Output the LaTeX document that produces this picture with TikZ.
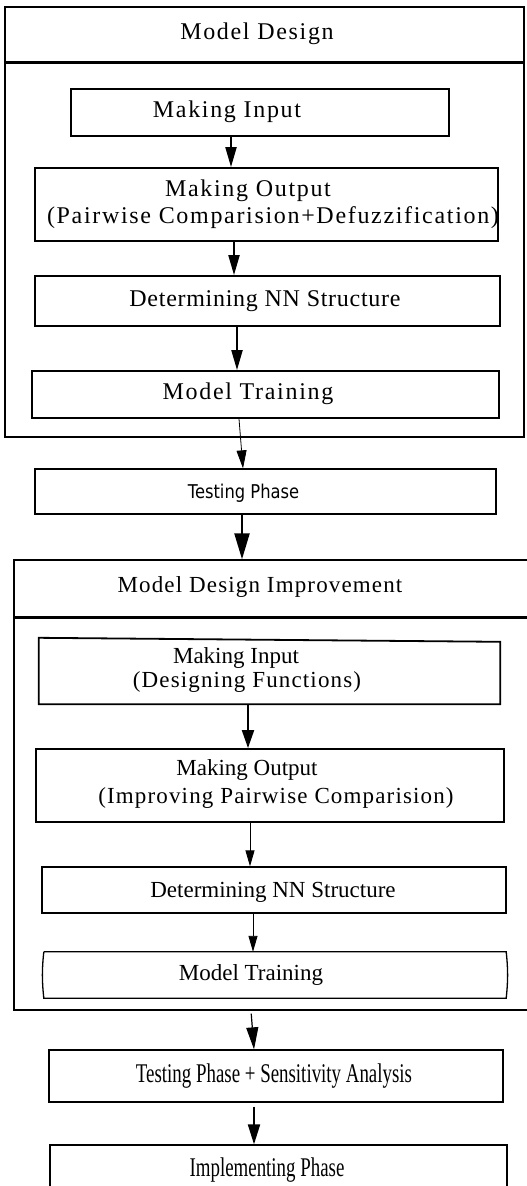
\documentclass[tikz,border=0pt]{standalone}
\usepackage{fontspec}
\setmainfont{Liberation Serif}
\newfontfamily\upA[LetterSpace=7]{Liberation Serif}
\newfontfamily\upB[LetterSpace=3]{Liberation Serif}
\newfontfamily\loS[LetterSpace=5]{Liberation Serif}
\newfontfamily\condF[FakeStretch=0.70]{Liberation Serif}
\newfontfamily\sansF[FakeStretch=0.86]{DejaVu Sans}
\usetikzlibrary{arrows.meta}
\tikzset{
  cont/.style={draw, rectangle, inner sep=0pt, line width=1.4pt},
  sepline/.style={line width=3pt},
  boxA/.style={draw, rectangle, inner sep=0pt, line width=1.8pt},
  boxB/.style={draw, rectangle, inner sep=0pt, line width=1.3pt},
  ghost/.style={rectangle, inner sep=0pt},
  txt/.style={inner sep=0pt, anchor=base},
  upt/.style={txt, font=\upA\fontsize{24}{28}\selectfont},
  lot/.style={txt, font=\fontsize{23}{27}\selectfont},
  cdt/.style={txt, font=\condF\fontsize{27}{31}\selectfont},
  thickarr/.style={line width=2pt, -{Triangle[length=20pt,width=11pt]}},
  bigarr/.style={line width=2.2pt, -{Triangle[length=26pt,width=15pt]}},
  thinarr/.style={line width=0.9pt, -{Triangle[length=16pt,width=9pt]}},
}
\begin{document}
\begin{tikzpicture}[x=1pt,y=-1pt]
\useasboundingbox (0,0) rectangle (527,1186);
\fill[white] (0,0) rectangle (527,1186);
\clip (0,0) rectangle (527,1186);

% ---------- Model Design container ----------
\node[cont, minimum width=519pt, minimum height=430pt] (c1) at (264.5,222) {};
\draw[sepline] (c1.west |- 0,62) -- (c1.east |- 0,62);
\node[upt] (t-c1) at (257,39) {Model Design};

\node[boxA, minimum width=378pt, minimum height=47pt] (mi1) at (260,112.5) {};
\node[upt] (t-mi1) at (227,117) {Making Input};

\node[boxA, minimum width=463pt, minimum height=73pt] (mo1) at (266.5,204.5) {};
\node[upt] (t-mo1a) at (248,196) {Making Output};
\node[upt] (t-mo1b) at (273,223) {(Pairwise Comparision+Defuzzification)};

\node[boxA, minimum width=465pt, minimum height=50pt] (dn1) at (267.5,301) {};
\node[txt, font=\upB\fontsize{24}{28}\selectfont] (t-dn1) at (265,306) {Determining NN Structure};

\node[boxA, minimum width=467pt, minimum height=47pt] (mt1) at (265.5,394.5) {};
\node[upt] (t-mt1) at (248,399) {Model Training};

% ---------- Testing Phase ----------
\node[boxB, minimum width=461pt, minimum height=45pt] (tp) at (265.5,491.5) {};
\node[txt, font=\sansF\fontsize{19}{23}\selectfont] (t-tp) at (243.5,498) {Testing Phase};

% ---------- Model Design Improvement container ----------
\node[cont, minimum width=516pt, minimum height=450pt] (c2) at (272,785) {};
\draw[sepline] (c2.west |- 0,617) -- (c2.east |- 0,617);
\node[txt, font=\loS\fontsize{23}{27}\selectfont] (t-c2) at (260,592) {Model Design Improvement};

\node[ghost, minimum width=461pt, minimum height=64pt] (mi2) at (269.5,672) {};
\draw[line width=1.8pt] ([yshift=2pt]mi2.north west) -- ([yshift=-2pt]mi2.north east)
   -- (mi2.south east) -- (mi2.south west) -- cycle;
\node[lot] (t-mi2a) at (236,663) {Making Input};
\node[txt, font=\loS\fontsize{23}{27}\selectfont] (t-mi2b) at (247,687) {(Designing Functions)};

\node[boxA, minimum width=468pt, minimum height=73pt] (mo2) at (270,785.5) {};
\node[lot] (t-mo2a) at (247,775) {Making Output};
\node[txt, font=\loS\fontsize{23}{27}\selectfont] (t-mo2b) at (276,803) {(Improving Pairwise Comparision)};

\node[boxB, minimum width=464pt, minimum height=46pt] (dn2) at (274,890) {};
\node[lot] (t-dn2) at (273,897) {Determining NN Structure};

\node[ghost, minimum width=462pt, minimum height=46pt] (mt2) at (275,975) {};
\draw[line width=1.3pt] (mt2.north west) -- (mt2.north east) to[bend left=6] (mt2.south east)
   -- (mt2.south west) to[bend left=6] (mt2.north west);
\node[lot] (t-mt2) at (251,980) {Model Training};

% ---------- Final phases ----------
\node[boxB, minimum width=454pt, minimum height=52pt] (tsa) at (276,1076) {};
\node[cdt] (t-tsa) at (274,1082) {Testing Phase + Sensitivity Analysis};

\node[boxB, minimum width=457pt, minimum height=50pt] (ip) at (278.5,1170) {};
\node[cdt] (t-ip) at (267,1176) {Implementing Phase};

% ---------- Connectors ----------
\draw[thickarr] (mi1.south -| 231,0) -- (mo1.north -| 231,0);
\draw[thickarr] (mo1.south -| 234,0) -- (dn1.north -| 234,0);
\draw[thickarr] (dn1.south -| 237,0) -- (mt1.north -| 237,0);
\draw[line width=0.8pt, -{Triangle[length=18pt,width=10pt]}] (mt1.south -| 239,0) -- (tp.north -| 243,0);
\draw[bigarr] (tp.south -| 242,0) -- (c2.north -| 242,0);
\draw[line width=2pt, -{Triangle[length=18pt,width=12pt]}] (mi2.south -| 248,0) -- (mo2.north -| 248,0);
\draw[thinarr] (mo2.south -| 250,0) -- (dn2.north -| 250,0);
\draw[thinarr] (dn2.south -| 253,0) -- (mt2.north -| 253,0);
\draw[line width=1.2pt, -{Triangle[length=22pt,width=12pt]}, shorten <=3pt] (c2.south -| 251,0) -- (tsa.north -| 254,0);
\draw[line width=2pt, -{Triangle[length=20pt,width=12pt]}, shorten <=4pt] (tsa.south -| 254,0) -- (ip.north -| 254,0);
\end{tikzpicture}
\end{document}
